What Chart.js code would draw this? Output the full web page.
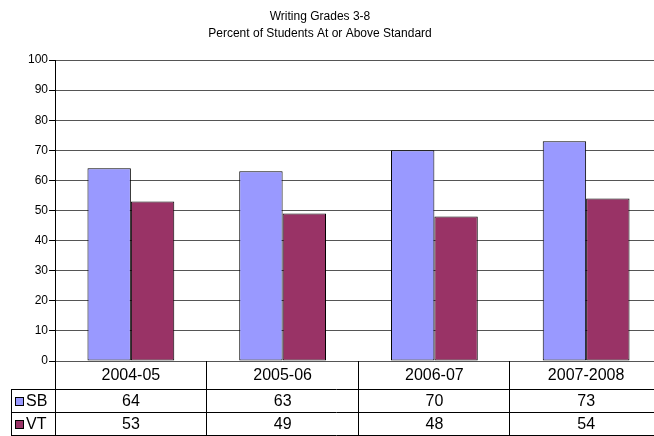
<!DOCTYPE html>
<html>
<head>
<meta charset="utf-8">
<script src="https://cdn.jsdelivr.net/npm/chart.js@4/dist/chart.umd.min.js"></script>
<style>
html,body{margin:0;padding:0;background:#fff;overflow:hidden;width:654px;height:436px;}
canvas{display:block;}
</style>
</head>
<body>
<canvas id="c" width="662" height="436"></canvas>
<script>
const titleLines = ['Writing Grades 3-8', 'Percent of Students At or Above Standard'];
const categories = ['2004-05', '2005-06', '2006-07', '2007-2008'];
const seriesNames = ['SB', 'VT'];
const sbValues = [64, 63, 70, 73];
const vtValues = [53, 49, 48, 54];
const seriesColors = ['#9999FF', '#993366'];
const yMin = 0, yMax = 100, yStep = 10;

const FONT = '"Liberation Sans", Arial, sans-serif';

const tablePlugin = {
  id: 'excelTable',
  afterDraw(chart) {
    const ctx = chart.ctx;
    const a = chart.chartArea;
    const x = chart.scales.x;
    const allValues = [sbValues, vtValues];
    const top = Math.round(a.bottom);
    const r1 = 389, r2 = 412, bottom = 435;
    const legLeft = 11;
    const left = Math.round(a.left);
    const right = 662;
    const half = (x.getPixelForValue(1) - x.getPixelForValue(0)) / 2;
    ctx.save();
    ctx.strokeStyle = '#000';
    ctx.lineWidth = 1;
    const hl = (y, x0, x1) => { ctx.beginPath(); ctx.moveTo(x0, y + 0.5); ctx.lineTo(x1, y + 0.5); ctx.stroke(); };
    const vl = (xx, y0, y1) => { ctx.beginPath(); ctx.moveTo(xx + 0.5, y0); ctx.lineTo(xx + 0.5, y1); ctx.stroke(); };
    hl(r1, legLeft, right);
    hl(r2, legLeft, right);
    hl(bottom, legLeft, right);
    vl(legLeft, r1, bottom + 1);
    vl(left, top, bottom + 1);
    categories.forEach((c, i) => {
      const b = Math.round(x.getPixelForValue(i) + half) - 1;
      if (i < categories.length - 1) vl(b, top, bottom + 1);
    });
    ctx.fillStyle = '#000';
    ctx.font = '16px ' + FONT;
    ctx.textAlign = 'center';
    ctx.textBaseline = 'middle';
    categories.forEach((c, i) => {
      const cx = x.getPixelForValue(i);
      ctx.fillText(c, cx, (top + r1) / 2 + 1);
      ctx.fillText(String(allValues[0][i]), cx, (r1 + r2) / 2 + 1);
      ctx.fillText(String(allValues[1][i]), cx, (r2 + bottom) / 2 + 1);
    });
    const rowsY = [(r1 + r2) / 2, (r2 + bottom) / 2];
    seriesNames.forEach((n, k) => {
      const cy = rowsY[k];
      ctx.fillStyle = seriesColors[k];
      ctx.fillRect(15.5, Math.round(cy - 4) + 0.5, 8, 8);
      ctx.strokeStyle = '#000';
      ctx.strokeRect(15.5, Math.round(cy - 4) + 0.5, 8, 8);
      ctx.fillStyle = '#000';
      ctx.textAlign = 'left';
      ctx.fillText(n, 26, cy + 1);
    });
    // title
    ctx.font = '12px ' + FONT;
    ctx.textAlign = 'center';
    ctx.fillText(titleLines[0], 320, 17);
    ctx.fillText(titleLines[1], 320, 34);
    ctx.restore();
  }
};

new Chart(document.getElementById('c'), {
  type: 'bar',
  data: {
    labels: categories,
    datasets: [
      { label: seriesNames[0], data: sbValues, backgroundColor: seriesColors[0], borderColor: '#000', borderWidth: 1, borderSkipped: false },
      { label: seriesNames[1], data: vtValues, backgroundColor: seriesColors[1], borderColor: '#000', borderWidth: 1, borderSkipped: false }
    ]
  },
  options: {
    responsive: false,
    animation: false,
    devicePixelRatio: 1,
    layout: { padding: { top: 60, bottom: 75, left: 0, right: 0 } },
    datasets: { bar: { categoryPercentage: 0.572, barPercentage: 1 } },
    plugins: { legend: { display: false }, title: { display: false }, tooltip: { enabled: false } },
    scales: {
      x: { display: false },
      y: {
        min: yMin, max: yMax,
        afterFit(s) { s.width = 55; },
        ticks: { stepSize: yStep, color: '#000', padding: 1, font: { family: FONT, size: 12 } },
        grid: { color: '#555', tickColor: '#000', tickLength: 6, drawTicks: true },
        border: { display: true, color: '#000', width: 1 }
      }
    }
  },
  plugins: [tablePlugin]
});
</script>
</body>
</html>
